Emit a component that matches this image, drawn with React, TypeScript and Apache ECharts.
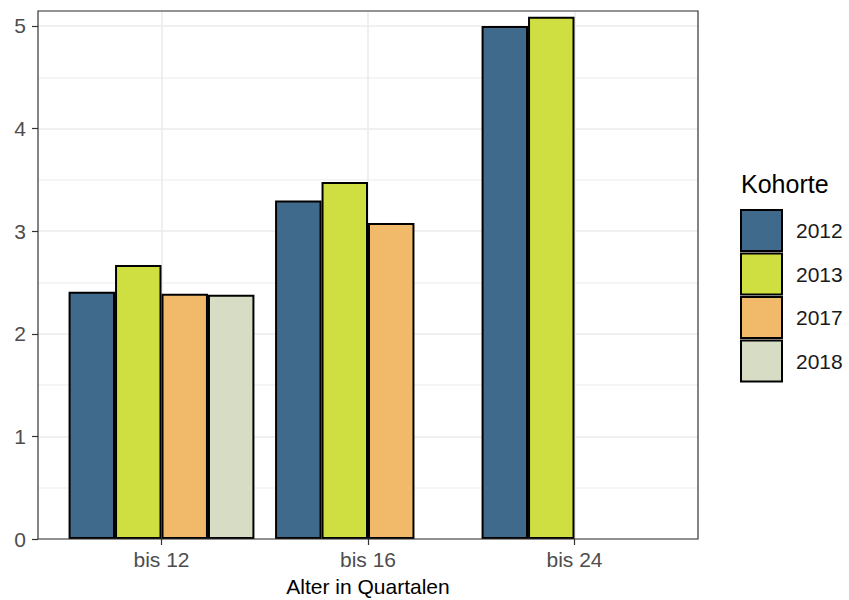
import React, { useEffect, useRef } from "react";
import * as echarts from "echarts";

const categories = ["bis 12", "bis 16", "bis 24"];
const cohorts = ["2012", "2013", "2017", "2018"];
const v2012 = [2.41, 3.3, 5.0];
const v2013 = [2.67, 3.48, 5.09];
const v2017 = [2.39, 3.08, null];
const v2018 = [2.38, null, null];
const colors = ["#406a8c", "#cfdf41", "#f0ba6a", "#d7dcc5"];
const yTicks = [0, 1, 2, 3, 4, 5];

const FONT = "Liberation Sans, Arial, Helvetica, sans-serif";

export default function App() {
  const ref = useRef<HTMLDivElement>(null);
  useEffect(() => {
    document.body.style.margin = "0";
    if (!ref.current) return;
    const chart = echarts.init(ref.current, undefined, { renderer: "svg" });
    const yMax = 5.146;
    const seriesData = [v2012, v2013, v2017, v2018];
    const option: any = {
      animation: false,
      textStyle: { fontFamily: FONT },
      grid: [
        { left: 38, top: 11, width: 660, height: 528, containLabel: false, outerBoundsMode: "none" },
        { left: 58.25, top: 11, width: 619.5, height: 528, containLabel: false, outerBoundsMode: "none" },
      ],
      xAxis: [
        { type: "value", gridIndex: 0, min: 0, max: 1, show: false },
        {
          type: "category",
          gridIndex: 1,
          data: categories,
          axisLine: { show: false },
          axisTick: { show: true, alignWithLabel: true, length: 6, lineStyle: { color: "#333333", width: 1.2 } },
          axisLabel: { fontSize: 21, color: "#4d4d4d", margin: 10, fontFamily: FONT },
          name: "Alter in Quartalen",
          nameLocation: "middle",
          nameGap: 37,
          nameTextStyle: { fontSize: 21, color: "#000000", fontFamily: FONT },
          splitLine: { show: false },
        },
        {
          type: "category",
          gridIndex: 1,
          data: categories,
          axisLine: { show: false },
          axisTick: { show: true, inside: true, alignWithLabel: true, length: 528, lineStyle: { color: "#ebebeb", width: 1.6 } },
          axisLabel: { show: false },
          splitLine: { show: false },
        },
      ],
      yAxis: [
        {
          type: "value",
          gridIndex: 0,
          position: "left",
          min: 0,
          max: yMax,
          interval: 0.5,
          axisLine: { show: false },
          axisTick: { show: false },
          axisLabel: { show: false },
          splitLine: { show: true, lineStyle: { color: ["#ebebeb", "#f2f2f2"], width: 1.6 } },
        },
        {
          type: "value",
          gridIndex: 0,
          position: "left",
          offset: 0,
          min: 0,
          max: yMax,
          interval: 1,
          axisLine: { show: false },
          axisTick: { show: true, length: 6, lineStyle: { color: "#333333", width: 1.2 } },
          axisLabel: {
            fontSize: 21,
            color: "#4d4d4d",
            margin: 12,
            fontFamily: FONT,
            showMaxLabel: false,
            formatter: (v: number) => (yTicks.includes(v) ? String(v) : ""),
          },
          splitLine: { show: false },
        },
        { type: "value", gridIndex: 1, min: 0, max: yMax, show: false },
      ],
      legend: {
        orient: "vertical",
        left: 740,
        top: 209,
        padding: 0,
        itemWidth: 41,
        itemHeight: 41,
        itemGap: 0.5,
        icon: "rect",
        data: cohorts,
        textStyle: { fontSize: 21, color: "#1a1a1a", fontFamily: FONT, padding: [0, 0, 0, 9] },
        itemStyle: { borderColor: "#000000", borderWidth: 2 },
      },
      graphic: [
        {
          type: "rect",
          shape: { x: 38, y: 11, width: 660, height: 528 },
          style: { fill: "none", stroke: "#333333", lineWidth: 1.2 },
          z: 100,
          silent: true,
        },
        {
          type: "text",
          left: 741,
          top: 171,
          style: { text: "Kohorte", fontSize: 25, fill: "#000000", fontFamily: FONT },
        },
      ],
      series: cohorts.map((c, i) => ({
        name: c,
        type: "bar",
        xAxisIndex: 1,
        yAxisIndex: 2,
        data: seriesData[i],
        barGap: "0%",
        barCategoryGap: "10%",
        itemStyle: { color: colors[i], borderColor: "#000000", borderWidth: 2 },
      })),
    };
    chart.setOption(option);
    return () => chart.dispose();
  }, []);
  return <div ref={ref} style={{ width: 849, height: 600 }} />;
}
